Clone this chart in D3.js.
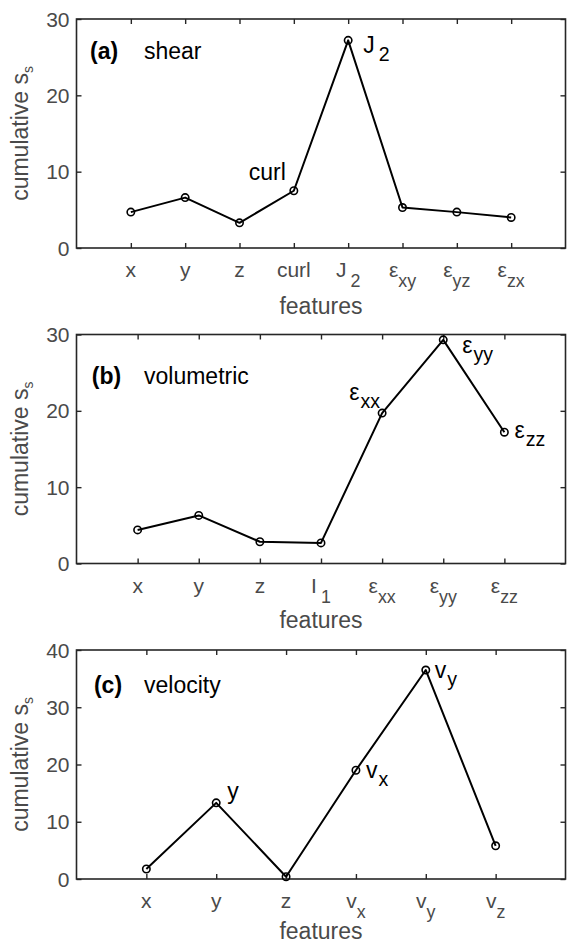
<!DOCTYPE html>
<html>
<head>
<meta charset="utf-8">
<script src="https://cdn.jsdelivr.net/npm/d3@7"></script>
<style>
  html, body { margin: 0; padding: 0; background: #fff; }
  svg { display: block; }
  text { font-family: "Liberation Sans", Arial, Helvetica, sans-serif; }
</style>
</head>
<body>
<svg id="chart" width="567" height="943"></svg>
<script>
// Cumulative s_s per input feature, for the three feature groups.
const shearFeatures = ["x", "y", "z", "curl", "J_2", "ε_xy", "ε_yz", "ε_zx"];
const shearValues   = [4.7, 6.6, 3.3, 7.5, 27.2, 5.3, 4.7, 4.0];
const shearTicks    = [0, 10, 20, 30];
const shearCallouts = [{ feature: "curl", text: "curl" }, { feature: "J_2", text: "J_2" }];

const volFeatures = ["x", "y", "z", "I_1", "ε_xx", "ε_yy", "ε_zz"];
const volValues   = [4.4, 6.3, 2.85, 2.7, 19.7, 29.3, 17.2];
const volTicks    = [0, 10, 20, 30];
const volCallouts = [{ feature: "ε_xx", text: "ε_xx" }, { feature: "ε_yy", text: "ε_yy" }, { feature: "ε_zz", text: "ε_zz" }];

const velFeatures = ["x", "y", "z", "v_x", "v_y", "v_z"];
const velValues   = [1.75, 13.3, 0.4, 19.0, 36.5, 5.8];
const velTicks    = [0, 10, 20, 30, 40];
const velCallouts = [{ feature: "y", text: "y" }, { feature: "v_x", text: "v_x" }, { feature: "v_y", text: "v_y" }];

const svg = d3.select("#chart");
svg.append("rect").attr("width", 567).attr("height", 943).attr("fill", "#fff");

const AXIS_COLOR = "#262626";
const LABEL_COLOR = "#4a4a4a";
const TICK_FONT = 21;
const LABEL_FONT = 23;

// Writes "base_sub" as a base run followed by a lowered, smaller run.
function writeSub(textSel, str, subScale, subDy, subDx) {
  const parts = str.split("_");
  textSel.text(null);
  textSel.append("tspan").text(parts[0]);
  if (parts.length > 1) {
    textSel.append("tspan")
      .attr("dx", subDx)
      .attr("dy", subDy)
      .attr("font-size", (subScale * 100) + "%")
      .text(parts[1]);
  }
}

// Pixel offsets of the callout texts from their points.
const calloutOffsets = {
  "curl": [-45, -11], "J_2": [15, 13],
  "ε_xx": [-33, -13], "ε_yy": [19, 13], "ε_zz": [10, 6],
  "y": [11, -4], "v_x": [10, 8], "v_y": [9, 8]
};

function drawPanel(p) {
  const left = 76.5, right = 565.5;
  const n = p.features.length;
  const x = d3.scaleLinear().domain([0, n + 1]).range([left, right]);
  const y = d3.scaleLinear().domain([0, p.ticks[p.ticks.length - 1]]).range([p.bottom, p.top]);
  const g = svg.append("g");
  const idx = d3.range(1, n + 1);

  // tick marks on all four sides, pointing inward
  const axes = [
    [d3.axisBottom(x).tickValues(idx), p.bottom, 0],
    [d3.axisTop(x).tickValues(idx), p.top, 0],
    [d3.axisLeft(y).tickValues(p.ticks), 0, left],
    [d3.axisRight(y).tickValues(p.ticks), 0, right]
  ];
  axes.forEach(([ax, ty, tx]) => {
    const a = g.append("g")
      .attr("transform", `translate(${tx},${ty})`)
      .call(ax.tickSizeInner(-5).tickSizeOuter(0).tickFormat(""));
    a.select(".domain").remove();
    a.selectAll(".tick line").attr("stroke", AXIS_COLOR).attr("stroke-width", 1.4);
    a.selectAll(".tick text").remove();
  });

  // frame
  g.append("rect")
    .attr("x", left).attr("y", p.top)
    .attr("width", right - left).attr("height", p.bottom - p.top)
    .attr("fill", "none").attr("stroke", AXIS_COLOR).attr("stroke-width", 1.6);

  // x tick labels
  g.selectAll("text.xt").data(p.features).join("text")
    .attr("class", "xt")
    .attr("x", (d, i) => x(i + 1))
    .attr("y", p.bottom + 29)
    .attr("text-anchor", "middle")
    .attr("font-size", TICK_FONT)
    .attr("fill", LABEL_COLOR)
    .each(function (d) {
      writeSub(d3.select(this), d, 0.85, 10, d.startsWith("J") || d.startsWith("I") ? 4 : 0);
    });

  // y tick labels
  g.selectAll("text.yt").data(p.ticks).join("text")
    .attr("class", "yt")
    .attr("x", left - 7)
    .attr("y", d => y(d))
    .attr("dy", "0.36em")
    .attr("text-anchor", "end")
    .attr("font-size", TICK_FONT)
    .attr("fill", LABEL_COLOR)
    .text(d => d);

  // axis titles
  g.append("text")
    .attr("x", (left + right) / 2)
    .attr("y", p.bottom + p.titleDy)
    .attr("text-anchor", "middle")
    .attr("font-size", LABEL_FONT)
    .attr("fill", LABEL_COLOR)
    .text("features");

  const yl = g.append("text")
    .attr("transform", `translate(28,${(p.top + p.bottom) / 2}) rotate(-90)`)
    .attr("text-anchor", "middle")
    .attr("font-size", LABEL_FONT)
    .attr("fill", LABEL_COLOR);
  writeSub(yl, "cumulative s_s", 0.6, 5, 0);

  // series
  const line = d3.line().x((d, i) => x(i + 1)).y(d => y(d));
  g.append("path")
    .datum(p.values)
    .attr("d", line)
    .attr("fill", "none")
    .attr("stroke", "#000")
    .attr("stroke-width", 2)
    .attr("stroke-linejoin", "round");

  g.selectAll("circle").data(p.values).join("circle")
    .attr("cx", (d, i) => x(i + 1))
    .attr("cy", d => y(d))
    .attr("r", 3.7)
    .attr("fill", "none")
    .attr("stroke", "#000")
    .attr("stroke-width", 1.6);

  // callouts next to selected points
  p.callouts.forEach(c => {
    const i = p.features.indexOf(c.feature);
    const off = calloutOffsets[c.feature];
    const t = g.append("text")
      .attr("x", x(i + 1) + off[0])
      .attr("y", y(p.values[i]) + off[1])
      .attr("font-size", LABEL_FONT)
      .attr("fill", "#000");
    writeSub(t, c.text, 0.85, 8, c.text.startsWith("J") ? 4 : 1);
  });

  // panel tag and group name
  g.append("text")
    .attr("x", x(0.25))
    .attr("y", p.top + p.tagDy)
    .attr("font-size", LABEL_FONT)
    .attr("font-weight", "bold")
    .attr("fill", "#000")
    .text(p.tag);
  g.append("text")
    .attr("x", 144)
    .attr("y", p.top + p.tagDy)
    .attr("font-size", LABEL_FONT)
    .attr("fill", "#000")
    .text(p.name);
}

drawPanel({ features: shearFeatures, values: shearValues, ticks: shearTicks, callouts: shearCallouts,
            top: 19, bottom: 248, tag: "(a)", name: "shear", tagDy: 40, titleDy: 66 });
drawPanel({ features: volFeatures, values: volValues, ticks: volTicks, callouts: volCallouts,
            top: 334.5, bottom: 563.5, tag: "(b)", name: "volumetric", tagDy: 49, titleDy: 64 });
drawPanel({ features: velFeatures, values: velValues, ticks: velTicks, callouts: velCallouts,
            top: 650, bottom: 879, tag: "(c)", name: "velocity", tagDy: 43, titleDy: 60 });
</script>
</body>
</html>
